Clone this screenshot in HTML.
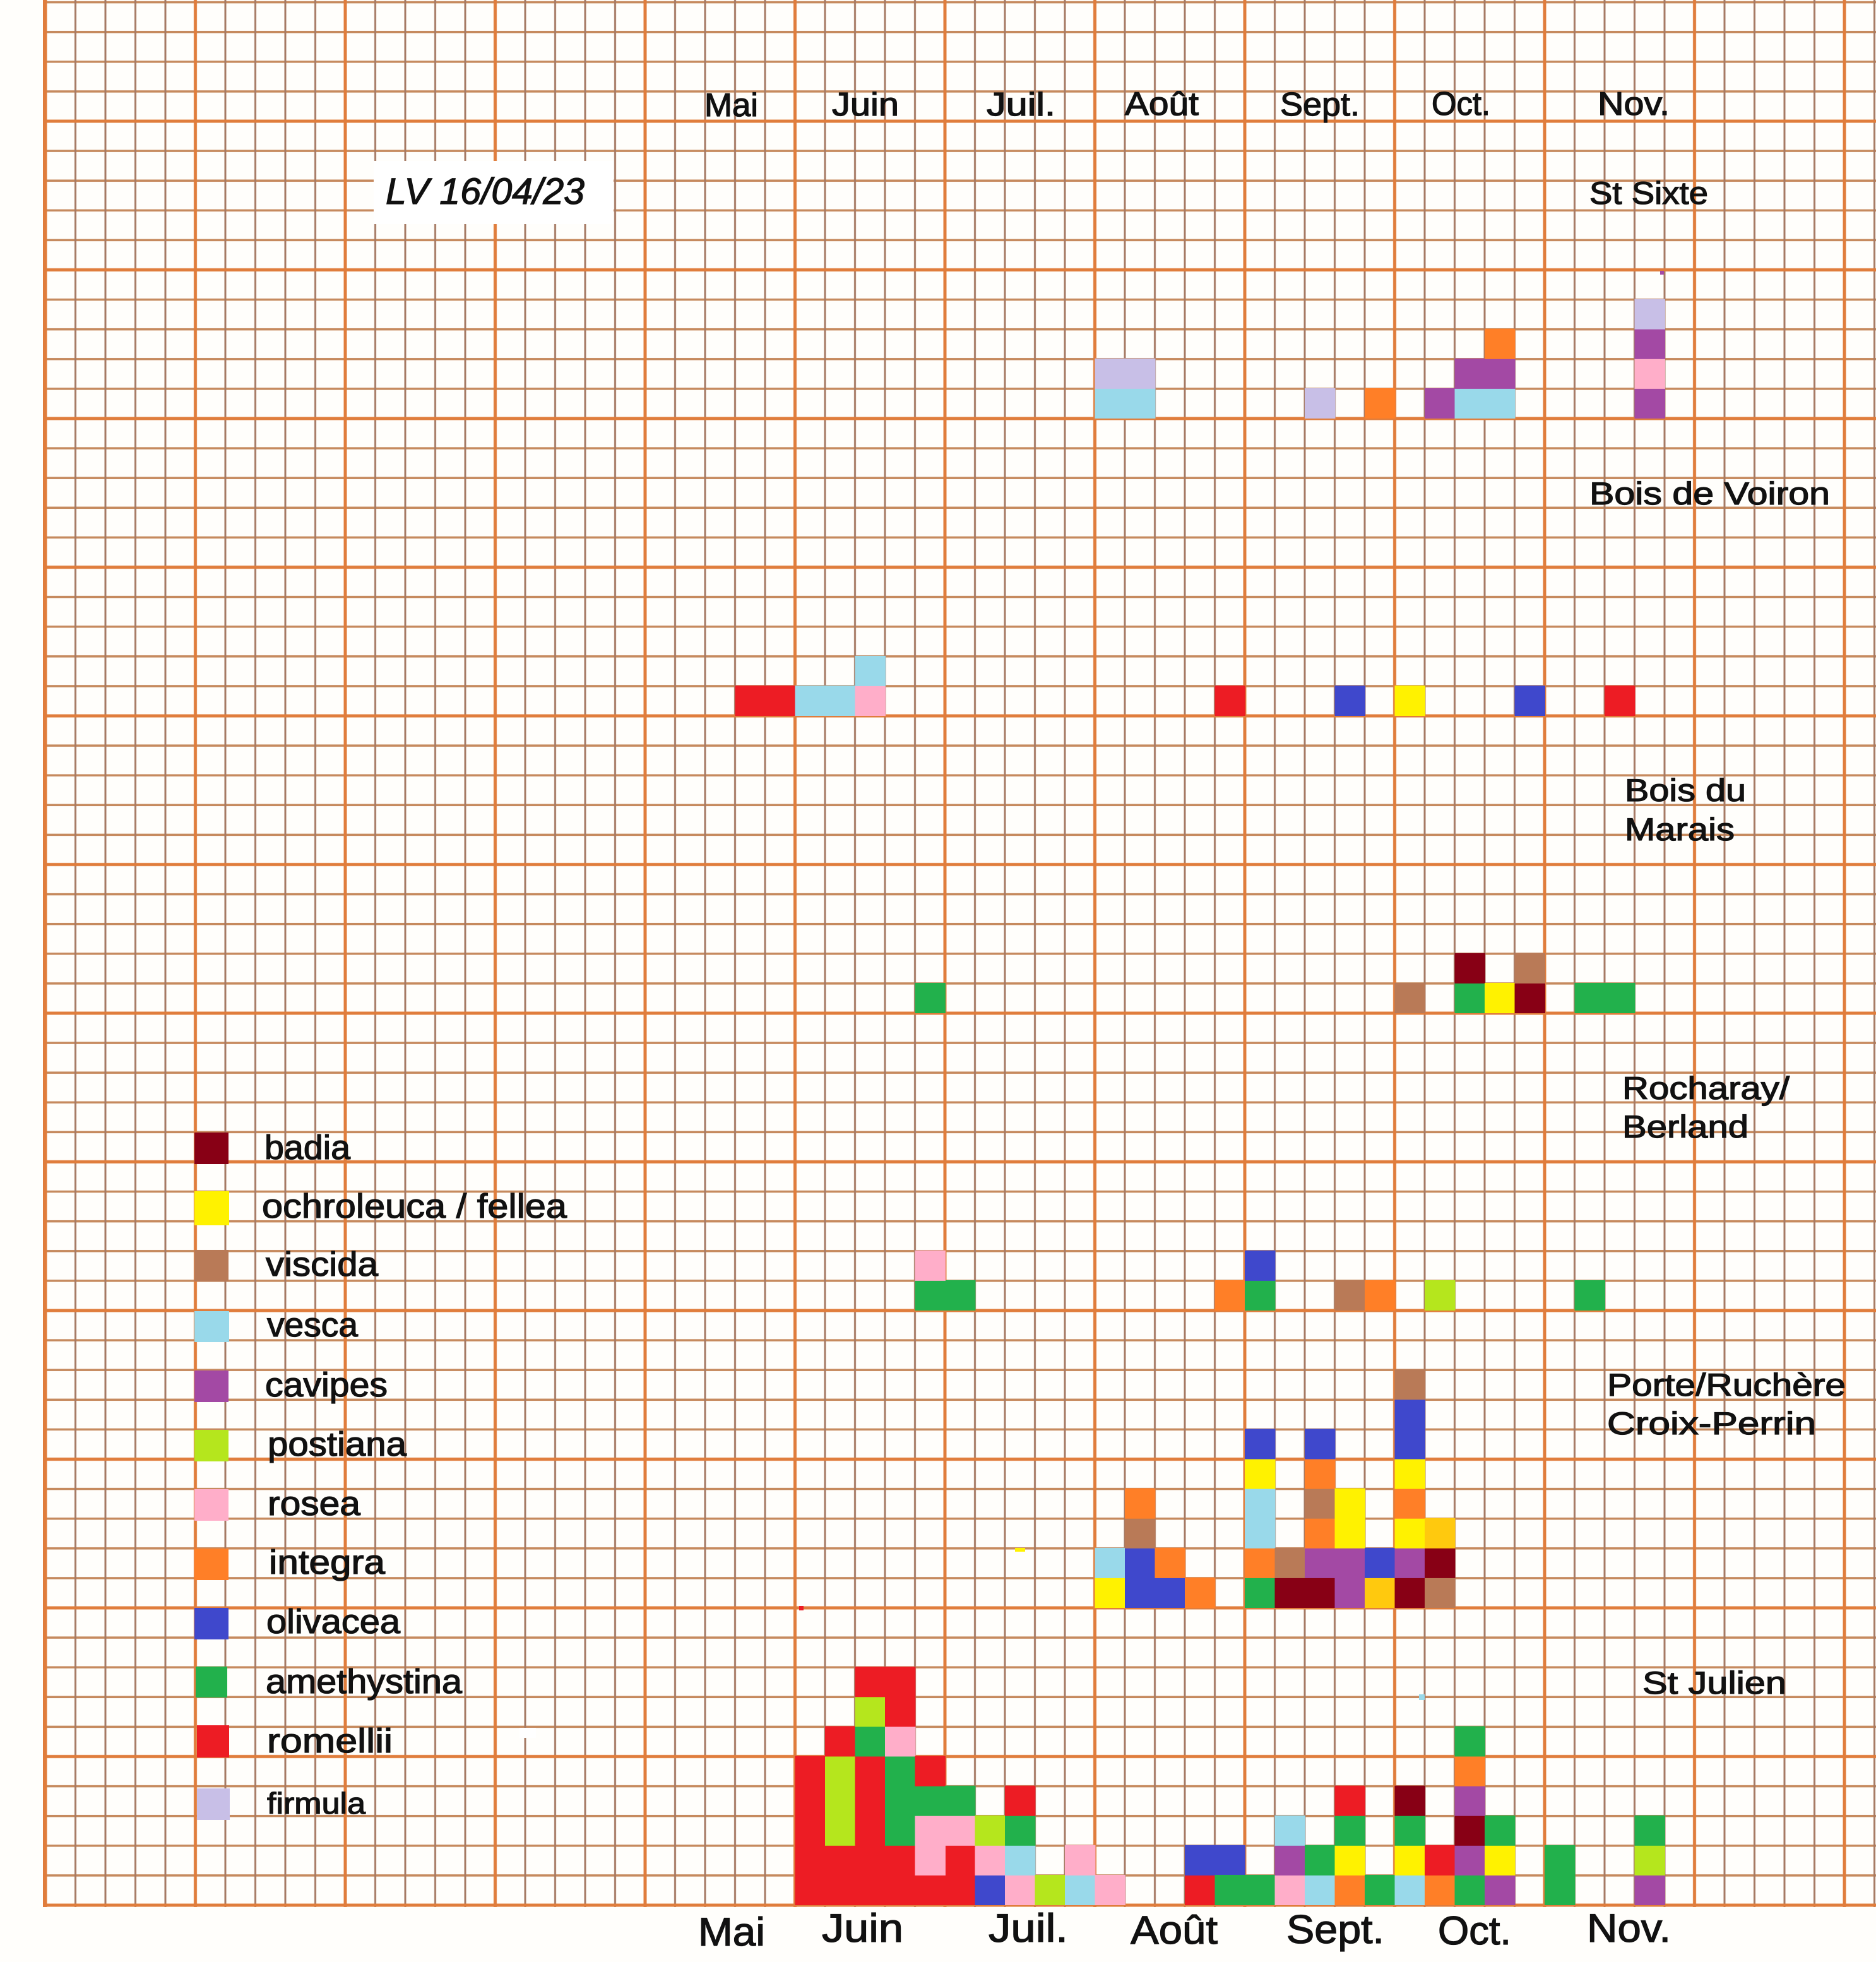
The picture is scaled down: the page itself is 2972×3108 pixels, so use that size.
<!DOCTYPE html>
<html><head><meta charset="utf-8">
<style>
html,body{margin:0;padding:0;background:#fffefb}
svg{display:block}
text{font-family:"Liberation Sans","DejaVu Sans",sans-serif;fill:#111;stroke:#111;stroke-width:1.3px}
.ba{fill:#880015}.oc{fill:#fff200}.vi{fill:#b97a57}.ve{fill:#99d9ea}.ca{fill:#a349a4}
.po{fill:#b5e61d}.ro{fill:#ffaec9}.in{fill:#ff7f27}.ol{fill:#3f48cc}.am{fill:#22b14c}
.rm{fill:#ed1c24}.fi{fill:#c8bfe7}.go{fill:#ffc90e}
</style></head>
<body>
<svg width="2972" height="3108" viewBox="0 0 2972 3108" xmlns="http://www.w3.org/2000/svg">
<defs>
<pattern id="minV" x="48.25" y="0" width="47.5" height="200" patternUnits="userSpaceOnUse"><rect x="22.25" y="0" width="3" height="200" fill="#a67a64"/></pattern>
<pattern id="minH" x="0" y="168.45" width="200" height="47.1" patternUnits="userSpaceOnUse"><rect x="0" y="21.8" width="200" height="3.5" fill="#c68a5e"/></pattern>
<pattern id="majV" x="-46.75" y="0" width="237.5" height="200" patternUnits="userSpaceOnUse"><rect x="116.25" y="0" width="5" height="200" fill="#e07d3c"/></pattern>
<pattern id="majH" x="0" y="74.25" width="200" height="235.5" patternUnits="userSpaceOnUse"><rect x="0" y="115.25" width="200" height="5" fill="#e07d3c"/></pattern>
</defs>
<rect x="0" y="0" width="2972" height="3108" fill="#fffefb"/>
<!-- grid -->
<rect x="70" y="0" width="2902" height="3022" fill="url(#minH)"/>
<rect x="69" y="0" width="2903" height="3021" fill="url(#minV)"/>
<rect x="70" y="0" width="2902" height="3022" fill="url(#majH)"/>
<rect x="69" y="0" width="2903" height="3021" fill="url(#majV)"/>
<rect x="68" y="0" width="6" height="3021" fill="#e07d3c"/>

<!-- LV box -->
<rect x="592" y="255" width="380" height="100" fill="#ffffff"/>
<text x="611" y="323" font-size="58" font-style="italic" textLength="315" lengthAdjust="spacingAndGlyphs">LV 16/04/23</text>

<!-- St Sixte -->
<g transform="translate(72,663) scale(47.5,-47.1)">
<rect class="ve" x="35" y="0" width="2.02" height="1.02"/>
<rect class="fi" x="35" y="1" width="2.02" height="1.02"/>
<rect class="fi" x="42" y="0" width="1.02" height="1.02"/>
<rect class="in" x="44" y="0" width="1.02" height="1.02"/>
<rect class="ca" x="46" y="0" width="1.02" height="1.02"/>
<rect class="ve" x="47" y="0" width="2.02" height="1.02"/>
<rect class="ca" x="47" y="1" width="2.02" height="1.02"/>
<rect class="in" x="48" y="2" width="1.02" height="1.02"/>
<rect class="ca" x="53" y="0" width="1.02" height="1.02"/>
<rect class="ro" x="53" y="1" width="1.02" height="1.02"/>
<rect class="ca" x="53" y="2" width="1.02" height="1.02"/>
<rect class="fi" x="53" y="3" width="1.02" height="1.02"/>
</g>

<!-- Bois de Voiron -->
<g transform="translate(72,1134) scale(47.5,-47.1)">
<rect class="rm" x="23" y="0" width="2.02" height="1.02"/>
<rect class="ve" x="25" y="0" width="2.02" height="1.02"/>
<rect class="ro" x="27" y="0" width="1.02" height="1.02"/>
<rect class="ve" x="27" y="1" width="1.02" height="1.02"/>
<rect class="rm" x="39" y="0" width="1.02" height="1.02"/>
<rect class="ol" x="43" y="0" width="1.02" height="1.02"/>
<rect class="oc" x="45" y="0" width="1.02" height="1.02"/>
<rect class="ol" x="49" y="0" width="1.02" height="1.02"/>
<rect class="rm" x="52" y="0" width="1.02" height="1.02"/>
</g>

<!-- Bois du Marais -->
<g transform="translate(72,1605) scale(47.5,-47.1)">
<rect class="am" x="29" y="0" width="1.02" height="1.02"/>
<rect class="vi" x="45" y="0" width="1.02" height="1.02"/>
<rect class="am" x="47" y="0" width="1.02" height="1.02"/>
<rect class="ba" x="47" y="1" width="1.02" height="1.02"/>
<rect class="oc" x="48" y="0" width="1.02" height="1.02"/>
<rect class="ba" x="49" y="0" width="1.02" height="1.02"/>
<rect class="vi" x="49" y="1" width="1.02" height="1.02"/>
<rect class="am" x="51" y="0" width="2.02" height="1.02"/>
</g>

<!-- Rocharay / Berland -->
<g transform="translate(72,2076) scale(47.5,-47.1)">
<rect class="am" x="29" y="0" width="2.02" height="1.02"/>
<rect class="ro" x="29" y="1" width="1.02" height="1.02"/>
<rect class="in" x="39" y="0" width="1.02" height="1.02"/>
<rect class="am" x="40" y="0" width="1.02" height="1.02"/>
<rect class="ol" x="40" y="1" width="1.02" height="1.02"/>
<rect class="vi" x="43" y="0" width="1.02" height="1.02"/>
<rect class="in" x="44" y="0" width="1.02" height="1.02"/>
<rect class="po" x="46" y="0" width="1.02" height="1.02"/>
<rect class="am" x="51" y="0" width="1.02" height="1.02"/>
</g>

<!-- Porte / Ruchere -->
<g transform="translate(72,2547) scale(47.5,-47.1)">
<rect class="oc" x="35" y="0" width="1.02" height="1.02"/>
<rect class="ve" x="35" y="1" width="1.02" height="1.02"/>
<rect class="ol" x="36" y="0" width="1.02" height="2.02"/>
<rect class="vi" x="36" y="2" width="1.02" height="1.02"/>
<rect class="in" x="36" y="3" width="1.02" height="1.02"/>
<rect class="ol" x="37" y="0" width="1.02" height="1.02"/>
<rect class="in" x="37" y="1" width="1.02" height="1.02"/>
<rect class="in" x="38" y="0" width="1.02" height="1.02"/>
<rect class="am" x="40" y="0" width="1.02" height="1.02"/>
<rect class="in" x="40" y="1" width="1.02" height="1.02"/>
<rect class="ve" x="40" y="2" width="1.02" height="2.02"/>
<rect class="oc" x="40" y="4" width="1.02" height="1.02"/>
<rect class="ol" x="40" y="5" width="1.02" height="1.02"/>
<rect class="ba" x="41" y="0" width="1.02" height="1.02"/>
<rect class="vi" x="41" y="1" width="1.02" height="1.02"/>
<rect class="ba" x="42" y="0" width="1.02" height="1.02"/>
<rect class="ca" x="42" y="1" width="1.02" height="1.02"/>
<rect class="in" x="42" y="2" width="1.02" height="1.02"/>
<rect class="vi" x="42" y="3" width="1.02" height="1.02"/>
<rect class="in" x="42" y="4" width="1.02" height="1.02"/>
<rect class="ol" x="42" y="5" width="1.02" height="1.02"/>
<rect class="ca" x="43" y="0" width="1.02" height="2.02"/>
<rect class="oc" x="43" y="2" width="1.02" height="2.02"/>
<rect class="go" x="44" y="0" width="1.02" height="1.02"/>
<rect class="ol" x="44" y="1" width="1.02" height="1.02"/>
<rect class="ba" x="45" y="0" width="1.02" height="1.02"/>
<rect class="ca" x="45" y="1" width="1.02" height="1.02"/>
<rect class="oc" x="45" y="2" width="1.02" height="1.02"/>
<rect class="in" x="45" y="3" width="1.02" height="1.02"/>
<rect class="oc" x="45" y="4" width="1.02" height="1.02"/>
<rect class="ol" x="45" y="5" width="1.02" height="2.02"/>
<rect class="vi" x="45" y="7" width="1.02" height="1.02"/>
<rect class="vi" x="46" y="0" width="1.02" height="1.02"/>
<rect class="ba" x="46" y="1" width="1.02" height="1.02"/>
<rect class="go" x="46" y="2" width="1.02" height="1.02"/>
</g>

<!-- St Julien -->
<g transform="translate(72,3018) scale(47.5,-47.1)">
<rect class="rm" x="25" y="0" width="6.02" height="1.02"/>
<rect class="rm" x="25" y="1" width="4.02" height="1.02"/>
<rect class="rm" x="30" y="1" width="1.02" height="1.02"/>
<rect class="rm" x="25" y="2" width="1.02" height="3.02"/>
<rect class="po" x="26" y="2" width="1.02" height="3.02"/>
<rect class="rm" x="26" y="5" width="1.02" height="1.02"/>
<rect class="rm" x="27" y="2" width="1.02" height="3.02"/>
<rect class="am" x="27" y="5" width="1.02" height="1.02"/>
<rect class="po" x="27" y="6" width="1.02" height="1.02"/>
<rect class="rm" x="27" y="7" width="1.02" height="1.02"/>
<rect class="am" x="28" y="2" width="1.02" height="3.02"/>
<rect class="ro" x="28" y="5" width="1.02" height="1.02"/>
<rect class="rm" x="28" y="6" width="1.02" height="2.02"/>
<rect class="ro" x="29" y="1" width="1.02" height="2.02"/>
<rect class="am" x="29" y="3" width="1.02" height="1.02"/>
<rect class="rm" x="29" y="4" width="1.02" height="1.02"/>
<rect class="ro" x="30" y="2" width="1.02" height="1.02"/>
<rect class="am" x="30" y="3" width="1.02" height="1.02"/>
<rect class="ol" x="31" y="0" width="1.02" height="1.02"/>
<rect class="ro" x="31" y="1" width="1.02" height="1.02"/>
<rect class="po" x="31" y="2" width="1.02" height="1.02"/>
<rect class="ro" x="32" y="0" width="1.02" height="1.02"/>
<rect class="ve" x="32" y="1" width="1.02" height="1.02"/>
<rect class="am" x="32" y="2" width="1.02" height="1.02"/>
<rect class="rm" x="32" y="3" width="1.02" height="1.02"/>
<rect class="po" x="33" y="0" width="1.02" height="1.02"/>
<rect class="ve" x="34" y="0" width="1.02" height="1.02"/>
<rect class="ro" x="34" y="1" width="1.02" height="1.02"/>
<rect class="ro" x="35" y="0" width="1.02" height="1.02"/>
<rect class="rm" x="38" y="0" width="1.02" height="1.02"/>
<rect class="ol" x="38" y="1" width="2.02" height="1.02"/>
<rect class="am" x="39" y="0" width="2.02" height="1.02"/>
<rect class="ro" x="41" y="0" width="1.02" height="1.02"/>
<rect class="ca" x="41" y="1" width="1.02" height="1.02"/>
<rect class="ve" x="41" y="2" width="1.02" height="1.02"/>
<rect class="ve" x="42" y="0" width="1.02" height="1.02"/>
<rect class="am" x="42" y="1" width="1.02" height="1.02"/>
<rect class="in" x="43" y="0" width="1.02" height="1.02"/>
<rect class="oc" x="43" y="1" width="1.02" height="1.02"/>
<rect class="am" x="43" y="2" width="1.02" height="1.02"/>
<rect class="rm" x="43" y="3" width="1.02" height="1.02"/>
<rect class="am" x="44" y="0" width="1.02" height="1.02"/>
<rect class="ve" x="45" y="0" width="1.02" height="1.02"/>
<rect class="oc" x="45" y="1" width="1.02" height="1.02"/>
<rect class="am" x="45" y="2" width="1.02" height="1.02"/>
<rect class="ba" x="45" y="3" width="1.02" height="1.02"/>
<rect class="in" x="46" y="0" width="1.02" height="1.02"/>
<rect class="rm" x="46" y="1" width="1.02" height="1.02"/>
<rect class="am" x="47" y="0" width="1.02" height="1.02"/>
<rect class="ca" x="47" y="1" width="1.02" height="1.02"/>
<rect class="ba" x="47" y="2" width="1.02" height="1.02"/>
<rect class="ca" x="47" y="3" width="1.02" height="1.02"/>
<rect class="in" x="47" y="4" width="1.02" height="1.02"/>
<rect class="am" x="47" y="5" width="1.02" height="1.02"/>
<rect class="ca" x="48" y="0" width="1.02" height="1.02"/>
<rect class="oc" x="48" y="1" width="1.02" height="1.02"/>
<rect class="am" x="48" y="2" width="1.02" height="1.02"/>
<rect class="am" x="50" y="0" width="1.02" height="2.02"/>
<rect class="ca" x="53" y="0" width="1.02" height="1.02"/>
<rect class="po" x="53" y="1" width="1.02" height="1.02"/>
<rect class="am" x="53" y="2" width="1.02" height="1.02"/>
</g>

<!-- small artifacts -->
<rect x="823" y="2737" width="26" height="16" fill="#ffffff"/>
<rect x="1608" y="2452" width="16" height="6" fill="#fff200"/>
<rect x="1266" y="2544" width="7" height="7" fill="#ed1c24"/>
<rect x="2630" y="429" width="6" height="6" fill="#a349a4"/>
<rect x="2248" y="2684" width="9" height="9" fill="#99d9ea"/>

<!-- legend -->
<rect class="ba" x="308" y="1794" width="54" height="50"/>
<rect class="oc" x="308" y="1887" width="55" height="54"/>
<rect class="vi" x="308" y="1980" width="54" height="50"/>
<rect class="ve" x="308" y="2077" width="55" height="49"/>
<rect class="ca" x="308" y="2171" width="54" height="50"/>
<rect class="po" x="308" y="2265" width="54" height="50"/>
<rect class="ro" x="308" y="2359" width="54" height="50"/>
<rect class="in" x="308" y="2453" width="54" height="50"/>
<rect class="ol" x="308" y="2547" width="54" height="50"/>
<rect class="am" x="310" y="2640" width="50" height="49"/>
<rect class="rm" x="312" y="2733" width="51" height="51"/>
<rect class="fi" x="312" y="2833" width="52" height="50"/>

<g font-size="54">
<text x="419" y="1836" textLength="136" lengthAdjust="spacingAndGlyphs">badia</text>
<text x="415" y="1929" textLength="483" lengthAdjust="spacingAndGlyphs">ochroleuca / fellea</text>
<text x="421" y="2021" textLength="178" lengthAdjust="spacingAndGlyphs">viscida</text>
<text x="423" y="2117" textLength="144" lengthAdjust="spacingAndGlyphs">vesca</text>
<text x="420" y="2212" textLength="194" lengthAdjust="spacingAndGlyphs">cavipes</text>
<text x="424" y="2306" textLength="220" lengthAdjust="spacingAndGlyphs">postiana</text>
<text x="424" y="2400" textLength="147" lengthAdjust="spacingAndGlyphs">rosea</text>
<text x="426" y="2493" textLength="184" lengthAdjust="spacingAndGlyphs">integra</text>
<text x="422" y="2587" textLength="212" lengthAdjust="spacingAndGlyphs">olivacea</text>
<text x="421" y="2682" textLength="311" lengthAdjust="spacingAndGlyphs">amethystina</text>
<text x="423" y="2776" textLength="199" lengthAdjust="spacingAndGlyphs">romellii</text>
<text x="423" y="2873" font-size="47" textLength="156" lengthAdjust="spacingAndGlyphs">firmula</text>
</g>

<!-- top months -->
<g font-size="52">
<text x="1116" y="184" textLength="85" lengthAdjust="spacingAndGlyphs">Mai</text>
<text x="1318" y="183" textLength="106" lengthAdjust="spacingAndGlyphs">Juin</text>
<text x="1563" y="183" textLength="109" lengthAdjust="spacingAndGlyphs">Juil.</text>
<text x="1782" y="182" textLength="117" lengthAdjust="spacingAndGlyphs">Août</text>
<text x="2028" y="183" textLength="126" lengthAdjust="spacingAndGlyphs">Sept.</text>
<text x="2268" y="182" textLength="93" lengthAdjust="spacingAndGlyphs">Oct.</text>
<text x="2531" y="182" textLength="114" lengthAdjust="spacingAndGlyphs">Nov.</text>
</g>

<!-- bottom months -->
<g font-size="63">
<text x="1106" y="3082" textLength="106" lengthAdjust="spacingAndGlyphs">Mai</text>
<text x="1302" y="3076" textLength="129" lengthAdjust="spacingAndGlyphs">Juin</text>
<text x="1566" y="3076" textLength="126" lengthAdjust="spacingAndGlyphs">Juil.</text>
<text x="1791" y="3079" textLength="138" lengthAdjust="spacingAndGlyphs">Août</text>
<text x="2038" y="3078" textLength="155" lengthAdjust="spacingAndGlyphs">Sept.</text>
<text x="2278" y="3080" textLength="116" lengthAdjust="spacingAndGlyphs">Oct.</text>
<text x="2514" y="3076" textLength="133" lengthAdjust="spacingAndGlyphs">Nov.</text>
</g>

<!-- site labels -->
<g font-size="50">
<text x="2518" y="323" textLength="188" lengthAdjust="spacingAndGlyphs">St Sixte</text>
<text x="2518" y="799" textLength="381" lengthAdjust="spacingAndGlyphs">Bois de Voiron</text>
<text x="2574" y="1269" textLength="192" lengthAdjust="spacingAndGlyphs">Bois du</text>
<text x="2574" y="1331" textLength="174" lengthAdjust="spacingAndGlyphs">Marais</text>
<text x="2570" y="1741" textLength="265" lengthAdjust="spacingAndGlyphs">Rocharay/</text>
<text x="2570" y="1802" textLength="200" lengthAdjust="spacingAndGlyphs">Berland</text>
<text x="2546" y="2211" textLength="378" lengthAdjust="spacingAndGlyphs">Porte/Ruchère</text>
<text x="2546" y="2272" textLength="331" lengthAdjust="spacingAndGlyphs">Croix-Perrin</text>
<text x="2602" y="2683" textLength="228" lengthAdjust="spacingAndGlyphs">St Julien</text>
</g>
</svg>
</body></html>
